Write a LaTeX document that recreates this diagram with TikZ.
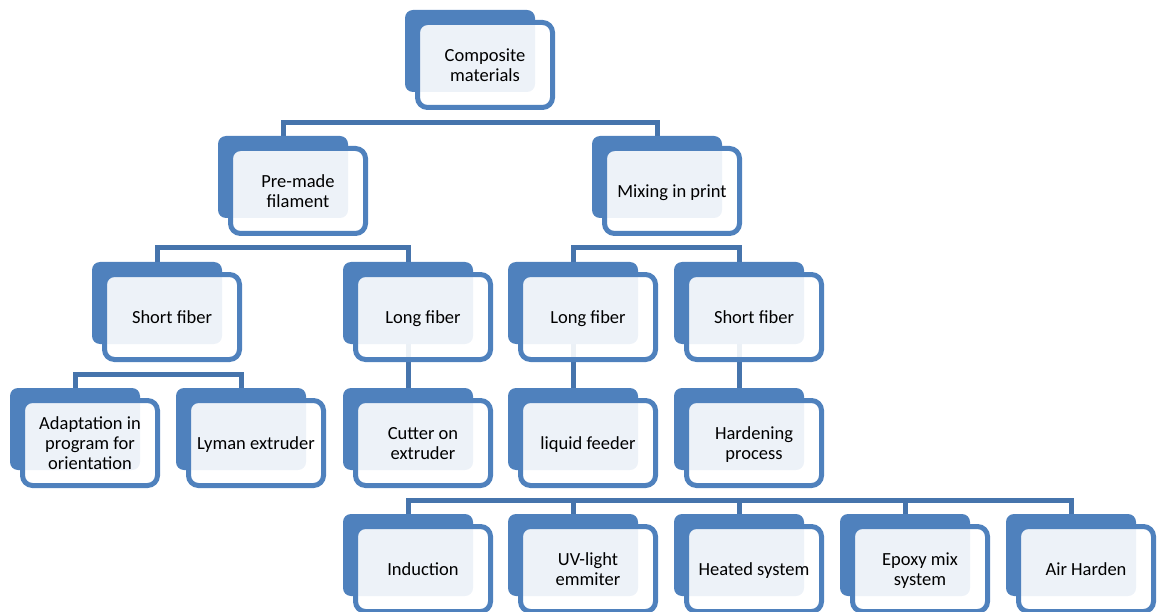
\documentclass[tikz,border=0pt]{standalone}
\usepackage{fontspec}
\setmainfont{Carlito}
\usetikzlibrary{shapes, backgrounds}
\definecolor{boxblue}{RGB}{79,129,189}
\definecolor{linkblue}{RGB}{70,116,172}
\tikzstyle{back} = [rectangle, rounded corners=8pt, minimum width=130pt, minimum height=82pt, inner sep=0pt, fill=boxblue]
\tikzstyle{front} = [rectangle, rounded corners=10pt, minimum width=135pt, minimum height=85pt, inner sep=0pt, draw=boxblue, line width=5pt, fill=white, fill opacity=0.9, text opacity=1, align=center, text depth=0pt, font=\fontsize{18.5}{20}\selectfont]
\tikzstyle{link} = [line width=5pt, draw=linkblue]
\begin{document}
\begin{tikzpicture}[x=1pt, y=-1pt]
\useasboundingbox (0,0) rectangle (1161,612);

% back boxes
\node at (470, 51) (comp) [back] {};
\node at (283, 177) (premade) [back] {};
\node at (657, 177) (mixing) [back] {};
\node at (157, 303) (shortA) [back] {};
\node at (408, 303) (longA) [back] {};
\node at (573, 303) (longB) [back] {};
\node at (739, 303) (shortB) [back] {};
\node at (75, 429) (adapt) [back] {};
\node at (241, 429) (lyman) [back] {};
\node at (408, 429) (cutter) [back] {};
\node at (573, 429) (feeder) [back] {};
\node at (739, 429) (harden) [back] {};
\node at (408, 555) (induct) [back] {};
\node at (573, 555) (uvlight) [back] {};
\node at (739, 555) (heated) [back] {};
\node at (905, 555) (epoxy) [back] {};
\node at (1071, 555) (airhard) [back] {};

% front boxes with text
\node at ([shift={(15,14)}]comp) (compF) [front] {Composite\\materials};
\node at ([shift={(15,14)}]premade) (premadeF) [front] {Pre-made\\filament};
\node at ([shift={(15,14)}]mixing) (mixingF) [front] {Mixing in print};
\node at ([shift={(15,14)}]shortA) (shortAF) [front] {Short fiber};
\node at ([shift={(15,14)}]longA) (longAF) [front] {Long fiber};
\node at ([shift={(15,14)}]longB) (longBF) [front] {Long fiber};
\node at ([shift={(15,14)}]shortB) (shortBF) [front] {Short fiber};
\node at ([shift={(15,14)}]adapt) (adaptF) [front] {Adaptation in\\program for\\orientation};
\node at ([shift={(15,14)}]lyman) (lymanF) [front] {Lyman extruder};
\node at ([shift={(15,14)}]cutter) (cutterF) [front] {Cutter on\\extruder};
\node at ([shift={(15,14)}]feeder) (feederF) [front] {liquid feeder};
\node at ([shift={(15,14)}]harden) (hardenF) [front] {Hardening\\process};
\node at ([shift={(15,14)}]induct) (inductF) [front] {Induction};
\node at ([shift={(15,14)}]uvlight) (uvlightF) [front] {UV-light\\emmiter};
\node at ([shift={(15,14)}]heated) (heatedF) [front] {Heated system};
\node at ([shift={(15,14)}]epoxy) (epoxyF) [front] {Epoxy mix\\system};
\node at ([shift={(15,14)}]airhard) (airhardF) [front] {Air Harden};

\begin{scope}[on background layer]
\draw [link] (comp) -- ++(0,31);
\draw [link] (premade.north) -- ++(0,-13) -| (mixing.north);

\draw [link] (premade) -- ++(0,30);
\draw [link] (shortA.north) -- ++(0,-14) -| (longA.north);
\draw [link] (mixing) -- ++(0,30);
\draw [link] (longB.north) -- ++(0,-14) -| (shortB.north);

\draw [link] (shortA) -- ++(0,31);
\draw [link] (adapt.north) -- ++(0,-13) -| (lyman.north);
\draw [link] (longA) -- (cutter);
\draw [link] (longB) -- (feeder);
\draw [link] (shortB) -- (harden);

\draw [link] (harden) -- ++(0,31);
\draw [link] (induct.north) -- ++(0,-13) -| (airhard.north);
\foreach \c in {uvlight, heated, epoxy}
  \draw [link] (\c.north) -- ++(0,-13);
\end{scope}

\end{tikzpicture}
\end{document}
